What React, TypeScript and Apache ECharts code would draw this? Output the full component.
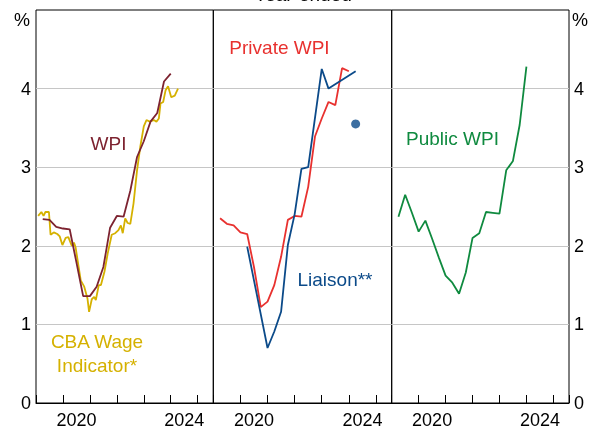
import React, { useEffect, useRef } from "react";
import * as echarts from "echarts";

// Quarter ends (year-ended growth), Mar 2019 .. Dec 2023
const quarters = [
  "2019-03", "2019-06", "2019-09", "2019-12",
  "2020-03", "2020-06", "2020-09", "2020-12",
  "2021-03", "2021-06", "2021-09", "2021-12",
  "2022-03", "2022-06", "2022-09", "2022-12",
  "2023-03", "2023-06", "2023-09", "2023-12",
];
const wpiValues = [2.34, 2.33, 2.24, 2.22, 2.21, 1.79, 1.36, 1.36, 1.48, 1.73, 2.23, 2.38, 2.37, 2.7, 3.13, 3.33, 3.58, 3.69, 4.09, 4.19];
const privateWpiValues = [2.35, 2.28, 2.26, 2.17, 2.15, 1.73, 1.22, 1.29, 1.5, 1.86, 2.33, 2.38, 2.37, 2.75, 3.39, 3.62, 3.83, 3.79, 4.26, 4.22];
const publicWpiValues = [2.37, 2.65, 2.42, 2.18, 2.32, 2.09, 1.85, 1.62, 1.53, 1.39, 1.66, 2.1, 2.16, 2.43, 2.42, 2.41, 2.96, 3.08, 3.54, 4.28];

// CBA Wage Indicator (monthly-ish, decimal years)
const cbaDates = [
  2019.08, 2019.2, 2019.28, 2019.35, 2019.48, 2019.54, 2019.66, 2019.79, 2019.88, 2019.98,
  2020.1, 2020.2, 2020.33, 2020.41, 2020.47, 2020.66, 2020.79, 2020.91, 2020.97, 2021.07,
  2021.16, 2021.22, 2021.33, 2021.41, 2021.54, 2021.66, 2021.81, 2021.94, 2022.06, 2022.15,
  2022.22, 2022.31, 2022.4, 2022.5, 2022.62, 2022.75, 2022.87, 2023.0, 2023.1, 2023.22,
  2023.37, 2023.47, 2023.56, 2023.62, 2023.72, 2023.81, 2023.9, 2024.02, 2024.15, 2024.27,
];
const cbaValues = [
  2.38, 2.43, 2.38, 2.43, 2.43, 2.14, 2.17, 2.15, 2.12, 2.01,
  2.1, 2.11, 2.0, 2.04, 1.98, 1.56, 1.48, 1.33, 1.16, 1.32,
  1.35, 1.31, 1.5, 1.5, 1.67, 1.9, 2.14, 2.16, 2.2, 2.26,
  2.16, 2.35, 2.29, 2.28, 2.54, 2.96, 3.26, 3.52, 3.6, 3.58,
  3.6, 3.58, 3.62, 3.81, 3.83, 3.98, 4.03, 3.89, 3.91, 4.0,
];

// Liaison
const liaisonDates = ["2020-03", "2020-12", "2021-03", "2021-06", "2021-09", "2021-12", "2022-03", "2022-06", "2022-12", "2023-03", "2024-03"];
const liaisonValues = [1.99, 0.7, 0.91, 1.16, 2.01, 2.4, 2.98, 3.0, 4.25, 4.0, 4.22];
const liaisonExpectDate = "2024-03";
const liaisonExpectValue = 3.55;

const yTicks = [0, 1, 2, 3, 4];
const xLabelYears = [2020, 2024];

const toYear = (s: string) => {
  const [y, m] = s.split("-").map(Number);
  return y + m / 12;
};

const FONT = "Liberation Sans, Arial, sans-serif";
const C_WPI = "#7D2330";
const C_CBA = "#D5B100";
const C_PRIV = "#E8312F";
const C_LIA = "#0B4A89";
const C_PUB = "#0F8A3F";

const X_MIN = 2019;
const X_MAX = 2025.58;

export default function App() {
  const ref = useRef<HTMLDivElement>(null);
  useEffect(() => {
    document.body.style.margin = "0";
    const chart = echarts.init(ref.current!, null, { renderer: "svg" });

    const grids = [
      { left: 36, top: 10, width: 177.3, height: 393 },
      { left: 213.3, top: 10, width: 178.4, height: 393 },
      { left: 391.7, top: 10, width: 177.3, height: 393 },
    ].map((g) => ({
      ...g, show: true, borderColor: "#000", borderWidth: 1,
      containLabel: false, outerBoundsMode: "none",
    }));

    const xAxes: any[] = [];
    const yAxes: any[] = [];
    for (let i = 0; i < 3; i++) {
      xAxes.push({
        type: "value", gridIndex: i, min: X_MIN, max: X_MAX, interval: 1, position: "bottom",
        axisLine: { show: true, onZero: false, lineStyle: { color: "#000", width: 1 } },
        axisTick: { show: true, inside: true, length: 8, lineStyle: { color: "#000" } },
        axisLabel: { show: false }, splitLine: { show: false },
      });
      xAxes.push({
        type: "value", gridIndex: i, min: X_MIN, max: X_MAX, interval: 0.5, position: "bottom", offset: 0,
        axisLine: { show: false, onZero: false }, axisTick: { show: false }, splitLine: { show: false },
        axisLabel: {
          show: true, margin: 8, fontSize: 18, fontFamily: FONT, color: "#000",
          formatter: (v: number) => {
            for (const y of xLabelYears) if (Math.abs(v - (y + 0.5)) < 1e-6) return String(y);
            return "";
          },
        },
      });
      yAxes.push({
        type: "value", gridIndex: i, min: 0, max: 5, interval: 1, position: "left",
        axisLine: { show: false }, axisTick: { show: false },
        axisLabel: {
          show: i === 0, margin: 5, fontSize: 18, fontFamily: FONT, color: "#000",
          formatter: (v: number) => (yTicks.includes(v) ? String(v) : ""),
        },
        splitLine: { show: true, showMinLine: false, showMaxLine: false, lineStyle: { color: "#C6C6C6", width: 1 } },
      });
    }
    yAxes.push({
      type: "value", gridIndex: 2, min: 0, max: 5, interval: 1, position: "right",
      axisLine: { show: false }, axisTick: { show: false }, splitLine: { show: false },
      axisLabel: {
        show: true, margin: 5, fontSize: 18, fontFamily: FONT, color: "#000",
        formatter: (v: number) => (yTicks.includes(v) ? String(v) : ""),
      },
    });

    const line = (name: string, data: number[][], color: string, gi: number) => ({
      type: "line", name, data, xAxisIndex: gi * 2, yAxisIndex: gi,
      showSymbol: false, symbol: "none", lineStyle: { color, width: 1.8 }, z: 5,
    });

    const text = (t: string, x: number, y: number, color: string, size = 19, extra: any = {}) => ({
      type: "text", x, y, silent: true,
      style: { text: t, fill: color, fontSize: size, fontFamily: FONT, align: "center", verticalAlign: "middle", ...extra },
    });

    chart.setOption({
      animation: false,
      grid: grids,
      xAxis: xAxes,
      yAxis: yAxes,
      series: [
        line("CBA Wage Indicator*", cbaDates.map((d, i) => [d, cbaValues[i]]), C_CBA, 0),
        line("WPI", quarters.map((q, i) => [toYear(q), wpiValues[i]]), C_WPI, 0),
        line("Private WPI", quarters.map((q, i) => [toYear(q), privateWpiValues[i]]), C_PRIV, 1),
        line("Liaison**", liaisonDates.map((q, i) => [toYear(q), liaisonValues[i]]), C_LIA, 1),
        {
          type: "scatter", name: "Liaison expectation", xAxisIndex: 2, yAxisIndex: 1,
          data: [[toYear(liaisonExpectDate), liaisonExpectValue]],
          symbol: "circle", symbolSize: 9, itemStyle: { color: C_LIA }, z: 6,
        },
        line("Public WPI", quarters.map((q, i) => [toYear(q), publicWpiValues[i]]), C_PUB, 2),
      ],
      graphic: [
        text("Year-ended", 303, 4, "#000", 19, { verticalAlign: "bottom" }),
        text("%", 22, 20, "#000", 18),
        text("%", 580, 20, "#000", 18),
        text("WPI", 108.5, 143.5, C_WPI),
        text("CBA Wage\nIndicator*", 97, 353, C_CBA, 19, { lineHeight: 24 }),
        text("Private WPI", 279.5, 47.5, C_PRIV),
        text("Liaison**", 335, 279, C_LIA),
        text("Public WPI", 452.5, 138.5, C_PUB),
      ],
    });
    return () => chart.dispose();
  }, []);
  return <div ref={ref} style={{ position: "fixed", left: 0, top: 0, width: 595, height: 432 }} />;
}
